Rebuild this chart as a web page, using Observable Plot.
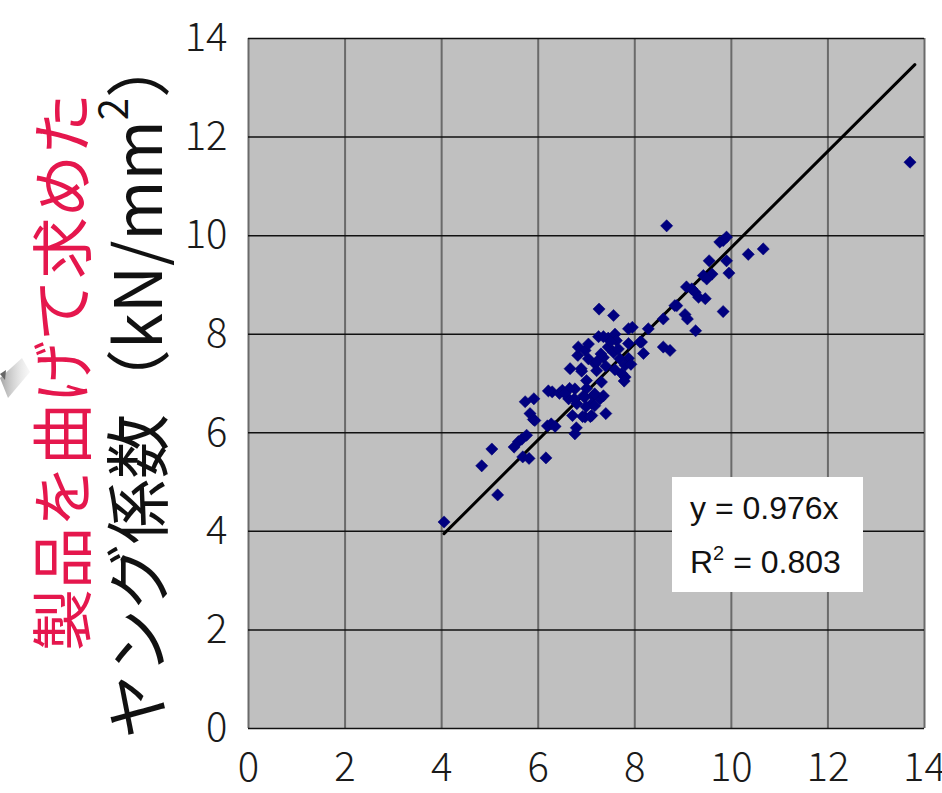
<!DOCTYPE html>
<html>
<head>
<meta charset="utf-8">
<script src="https://cdn.jsdelivr.net/npm/d3@7"></script>
<script src="https://cdn.jsdelivr.net/npm/@observablehq/plot@0.6"></script>
<style>
  html, body { margin: 0; padding: 0; background: #fff; overflow: hidden; }
  #wrap { position: relative; width: 942px; height: 793px; }
  #eq { position: absolute; left: 672px; top: 477px; width: 191px; height: 115px; background: #fff;
        font-family: "Liberation Sans", Arial, sans-serif; font-size: 32px; color: #111; }
  #eq div { position: absolute; left: 18px; line-height: 36px; white-space: nowrap; }
</style>
</head>
<body>
<div id="wrap"></div>
<script>
// 曲げ試験のヤング係数 (x) と 製品を曲げて求めたヤング係数 (y)
const xValues = [4.05,5.16,4.83,5.04,5.50,5.59,5.66,5.76,5.68,5.81,6.16,5.73,5.91,5.83,5.90,6.19,6.27,6.35,6.29,6.44,
  6.76,6.79,6.71,6.97,7.11,7.40,6.63,6.80,6.76,6.94,7.00,6.66,6.89,6.82,6.83,6.97,7.04,7.18,7.21,7.31,
  7.14,7.28,7.35,7.11,7.25,7.45,7.59,7.62,7.45,7.56,7.35,7.26,7.56,7.87,7.95,7.87,8.14,8.18,7.87,7.80,
  7.80,7.73,8.28,8.59,8.83,8.59,8.73,8.66,9.76,9.83,9.90,10.35,10.66,9.90,9.95,9.54,9.42,9.60,9.49,9.07,
  9.18,9.25,9.32,9.46,8.87,9.04,9.09,9.26,9.83,8.11,13.70,7.35,7.50,7.69,7.92,6.90,7.22,7.40,7.59,7.78,
  6.50,6.65,7.00,6.75,6.96,7.17,6.99,7.17,6.92,7.08,6.21,6.55,5.93,7.04,7.30,7.66];
const yValues = [4.19,4.74,5.33,5.67,5.71,5.82,5.87,5.95,5.51,5.48,5.49,6.63,6.69,6.39,6.27,6.14,6.18,6.13,6.83,6.80,
  5.98,6.10,6.35,6.32,6.35,6.39,6.69,6.59,6.89,6.75,7.06,7.30,7.30,7.57,7.74,7.67,7.50,7.40,7.26,7.03,
  6.75,6.69,6.75,6.59,7.95,7.92,8.00,7.87,7.74,7.63,7.53,8.51,8.38,8.11,8.14,7.81,7.84,7.61,7.51,7.37,
  7.13,7.20,8.11,8.31,8.58,7.74,7.67,10.20,9.87,9.90,9.97,9.62,9.73,9.49,9.24,9.49,9.19,9.22,9.12,8.96,
  8.92,8.85,8.75,8.72,8.58,8.40,8.31,8.07,8.46,7.84,11.49,7.95,7.85,7.50,7.39,7.25,7.45,7.35,7.28,7.05,
  6.86,6.90,6.90,6.69,6.72,6.79,6.53,6.55,6.33,6.33,6.85,6.80,6.25,7.80,7.60,7.70];
const slope = 0.976;          // y = 0.976x
const rSquared = 0.803;
const fitRange = [4.05, 13.8];
const xTicks = [0, 2, 4, 6, 8, 10, 12, 14];
const yTicks = [0, 2, 4, 6, 8, 10, 12, 14];
const labelRed = "製品を曲げて求めた";
const labelBlack = "ヤング係数（kN/mm";

const points = xValues.map((x, i) => ({x, y: yValues[i]}));
const fit = fitRange.map(x => ({x, y: slope * x}));

const plot = Plot.plot({
  width: 942,
  height: 793,
  marginLeft: 248,
  marginRight: 18,
  marginTop: 38,
  marginBottom: 65,
  style: {fontFamily: "'Noto Sans CJK JP', 'Noto Sans', sans-serif", fontSize: "40px", color: "#1a1a1a", background: "transparent", overflow: "visible"},
  x: {domain: [0, 14], ticks: xTicks, label: null},
  y: {domain: [0, 14], ticks: yTicks, label: null},
  marks: [
    Plot.frame({fill: "#c0c0c0", stroke: null}),
    Plot.gridX(xTicks, {stroke: "#6a6a6a", strokeOpacity: 1, strokeWidth: 2}),
    Plot.gridY(yTicks, {stroke: "#111", strokeOpacity: 1, strokeWidth: 1.5}),
    Plot.axisX({ticks: xTicks, tickSize: 0, tickPadding: 24, fontSize: 40, fontWeight: 300}),
    Plot.axisY({ticks: yTicks, tickSize: 0, tickPadding: 21, fontSize: 40, fontWeight: 300}),
    Plot.line(fit, {x: "x", y: "y", stroke: "#000", strokeWidth: 3}),
    Plot.dot(points, {x: "x", y: "y", symbol: "diamond2", r: 5.5, fill: "#000080", stroke: "#000070", strokeWidth: 0.5})
  ]
});

document.getElementById("wrap").appendChild(plot);
const svg = d3.select(plot);

// decorative grey arrow tip at left edge
const defs = svg.append("defs");
const g = defs.append("linearGradient").attr("id", "fade").attr("x1", 0).attr("x2", 1).attr("y1", 0).attr("y2", 0);
g.append("stop").attr("offset", "0%").attr("stop-color", "#999").attr("stop-opacity", 0.9);
g.append("stop").attr("offset", "100%").attr("stop-color", "#ddd").attr("stop-opacity", 0.2);
svg.append("path").attr("d", "M0,378 L22,358 L30,372 L8,398 Z").attr("fill", "url(#fade)");
svg.append("path").attr("d", "M0,374 L6,370 L5,380 Z").attr("fill", "#666");

// y-axis titles (two rotated lines)
svg.append("text")
  .attr("transform", "translate(59,372) rotate(-90)")
  .attr("text-anchor", "middle")
  .attr("dominant-baseline", "central")
  .attr("font-family", "'Noto Sans CJK JP', sans-serif")
  .attr("font-size", 62)
  .attr("fill", "#e5174d")
  .text(labelRed);

const t = svg.append("text")
  .attr("transform", "translate(134,386) rotate(-90)")
  .attr("text-anchor", "middle")
  .attr("dominant-baseline", "central")
  .attr("font-family", "'Noto Sans CJK JP', sans-serif")
  .attr("font-size", 65)
  .attr("fill", "#111");
t.append("tspan").text(labelBlack);
t.append("tspan").attr("font-size", 40).attr("dy", -23).text("2");
t.append("tspan").attr("dy", 23).text("）");

// equation box
const eq = document.createElement("div");
eq.id = "eq";
eq.innerHTML = `<div style="top:13px">y = ${slope}x</div><div style="top:67px">R<sup style="font-size:20px;vertical-align:13px;line-height:0">2</sup> = ${rSquared}</div>`;
document.getElementById("wrap").appendChild(eq);
</script>
</body>
</html>
